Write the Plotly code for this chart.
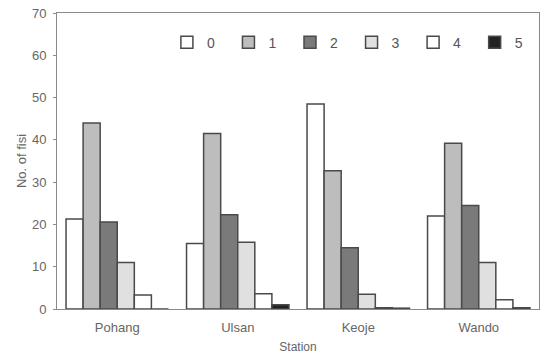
import plotly.graph_objects as go

stations = ["Pohang", "Ulsan", "Keoje", "Wando"]
series_names = ["0", "1", "2", "3", "4", "5"]
values = {
    "0": [21.3, 15.5, 48.5, 22.0],
    "1": [44.0, 41.5, 32.7, 39.2],
    "2": [20.6, 22.3, 14.5, 24.5],
    "3": [11.0, 15.8, 3.5, 11.0],
    "4": [3.3, 3.6, 0.3, 2.2],
    "5": [0.0, 1.0, 0.2, 0.3],
}
colors = {"0": "#ffffff", "1": "#bdbdbd", "2": "#7a7a7a", "3": "#e0e0e0", "4": "#ffffff", "5": "#222222"}
y_ticks = [0, 10, 20, 30, 40, 50, 60, 70]

fig = go.Figure()
legend_layout = {}
for i, s in enumerate(series_names):
    lname = "legend" if i == 0 else f"legend{i + 1}"
    fig.add_trace(go.Bar(
        x=stations, y=values[s], name=s, legend=lname,
        marker=dict(color=colors[s], line=dict(color="#4a4a4a", width=1.5)),
    ))
    legend_layout[lname] = dict(
        orientation="h", x=0.228 + i * 0.1277, y=0.9, xanchor="left", yanchor="middle",
        font=dict(size=14, color="#555555"), itemwidth=30, bgcolor="rgba(0,0,0,0)",
    )

fig.update_layout(
    width=542, height=357,
    margin=dict(l=57, r=3, t=13, b=48),
    paper_bgcolor="white", plot_bgcolor="white",
    barmode="group", bargap=0.15, bargroupgap=0,
    font=dict(family="Liberation Sans, Arial, sans-serif", size=12, color="#666666"),
    showlegend=True,
    **legend_layout,
)
fig.update_xaxes(showline=True, linecolor="#8a8a8a", linewidth=1, mirror=True, automargin=False,
                 ticks="", ticklabelstandoff=6, tickfont=dict(size=13, color="#666666"),
                 title=dict(text="Station", font=dict(size=12, color="#666666"), standoff=9))
fig.update_yaxes(range=[0, 70], tickvals=y_ticks, showgrid=False, zeroline=False, automargin=False,
                 showline=True, linecolor="#8a8a8a", linewidth=1, mirror=True,
                 ticks="outside", ticklen=3, tickcolor="#8a8a8a", ticklabelstandoff=4,
                 tickfont=dict(size=13, color="#666666"),
                 title=dict(text="No. of fisi", font=dict(size=13, color="#666666"), standoff=2))

fig.write_html("out.html", config={"displayModeBar": False},
               post_script="document.body.style.margin='0';")
